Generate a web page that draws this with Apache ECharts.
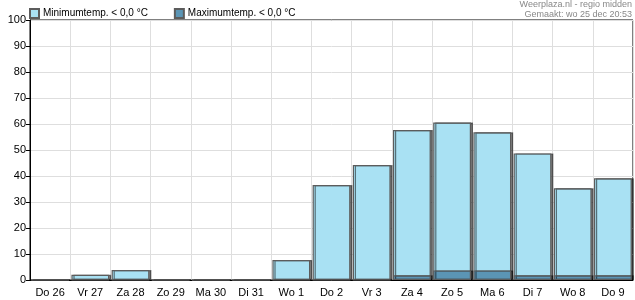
<!DOCTYPE html>
<html>
<head>
<meta charset="utf-8">
<script src="https://cdn.jsdelivr.net/npm/echarts@6/dist/echarts.min.js"></script>
<style>
	html, body { margin: 0; padding: 0; background: #fff; }
	#chart { width: 635px; height: 300px; }
</style>
</head>
<body>
<div id="chart"></div>
<script>
var days = ['Do 26', 'Vr 27', 'Za 28', 'Zo 29', 'Ma 30', 'Di 31', 'Wo 1', 'Do 2', 'Vr 3', 'Za 4', 'Zo 5', 'Ma 6', 'Di 7', 'Wo 8', 'Do 9'];
var minTemp = [0, 2, 3.8, 0, 0, 0, 7.7, 36.5, 44.2, 57.7, 60.6, 56.8, 48.7, 35.3, 39.1];
var maxTemp = [0, 0, 0, 0, 0, 0, 0, 0, 0, 1.8, 3.7, 3.7, 1.8, 1.8, 1.8];
var yTicks = [0, 10, 20, 30, 40, 50, 60, 70, 80, 90, 100];

var chart = echarts.init(document.getElementById('chart'));

// bar style: donkere rand + schaduw rechts
function barStyle(fill) {
	return {
		color: fill,
		borderColor: '#5c5c5c',
		borderWidth: 1.2,
		shadowColor: 'rgba(0,0,0,0.5)',
		shadowOffsetX: 2,
		shadowOffsetY: 0,
		shadowBlur: 0
	};
}

var option = {
	animation: false,
	textStyle: { fontFamily: 'Liberation Sans, Arial, sans-serif' },
	legend: {
		left: 24,
		top: 3,
		itemWidth: 9,
		itemHeight: 9,
		itemGap: 26,
		icon: 'rect',
		textStyle: { fontSize: 10, color: '#000', padding: [0, 0, 0, -1] },
		data: ['Minimumtemp. < 0,0 °C', 'Maximumtemp. < 0,0 °C']
	},
	graphic: [{
		type: 'text',
		right: 3,
		top: 0,
		style: {
			text: 'Weerplaza.nl - regio midden\nGemaakt: wo 25 dec 20:53',
			fill: '#888',
			font: '9px Liberation Sans, Arial, sans-serif',
			textAlign: 'right',
			lineHeight: 10
		}
	}],
	grid: {
		left: 30,
		right: 2,
		top: 20,
		bottom: 20,
		show: true,
		borderColor: '#000',
		borderWidth: 1
	},
	xAxis: {
		type: 'category',
		data: days,
		axisLine: { lineStyle: { color: '#000' } },
		axisTick: { interval: 0, length: 4, lineStyle: { color: '#000' } },
		axisLabel: { interval: 0, color: '#000', fontSize: 11, margin: 7 },
		splitLine: { show: true, interval: 0, lineStyle: { color: '#dedede' } }
	},
	yAxis: {
		type: 'value',
		min: yTicks[0],
		max: yTicks[yTicks.length - 1],
		interval: 10,
		axisLine: { show: true, lineStyle: { color: '#000' } },
		axisTick: { show: true, length: 4, lineStyle: { color: '#000' } },
		axisLabel: { color: '#000', fontSize: 11, margin: 4 },
		splitLine: { lineStyle: { color: '#dedede' } }
	},
	series: [
		{
			name: 'Minimumtemp. < 0,0 °C',
			type: 'bar',
			data: minTemp,
			barCategoryGap: '6%',
			barGap: '-100%',
			itemStyle: barStyle('#a9e1f3')
		},
		{
			name: 'Maximumtemp. < 0,0 °C',
			type: 'bar',
			data: maxTemp,
			barCategoryGap: '6%',
			barGap: '-100%',
			itemStyle: barStyle('#5b95b5')
		}
	]
};

chart.setOption(option);
</script>
</body>
</html>
